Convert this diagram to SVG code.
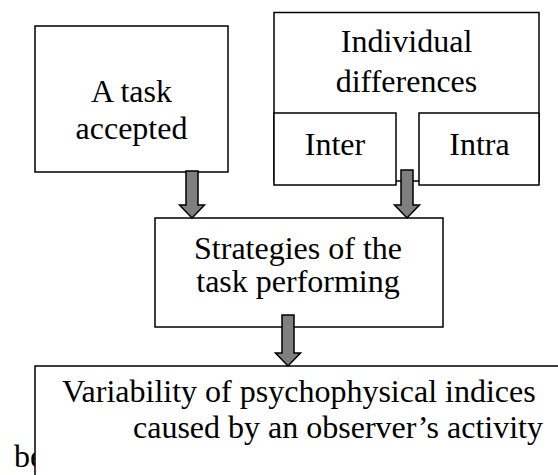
<svg xmlns="http://www.w3.org/2000/svg" width="558" height="475" viewBox="0 0 558 475">
<style>
.box{fill:#fff;stroke:#000;stroke-width:1.5}
.t{font-family:'Liberation Serif','Times New Roman',Times,'DejaVu Serif',serif;font-size:32px;fill:#000}
.c{text-anchor:middle}
.arr{fill:#7f7f7f;stroke:#000;stroke-width:1.5;stroke-linejoin:miter}
</style>
<rect width="558" height="475" fill="#fff"/>
<text class="t" x="14" y="467" font-family="Liberation Serif, serif">be</text>
<g id="task">
<rect class="box" x="35" y="26" width="193" height="146"/>
<text class="t c" x="131.5" y="101.5" font-family="Liberation Serif, serif">A task</text>
<text class="t c" x="131.5" y="138.5" font-family="Liberation Serif, serif">accepted</text>
</g>
<g id="individual">
<rect class="box" x="274" y="12.5" width="265" height="168.5"/>
<text class="t c" x="406.5" y="51.5" font-family="Liberation Serif, serif">Individual</text>
<text class="t c" x="406.5" y="91.5" font-family="Liberation Serif, serif">differences</text>
</g>
<g id="inter">
<rect class="box" x="274" y="113" width="122" height="72"/>
<text class="t c" x="335" y="155" font-family="Liberation Serif, serif">Inter</text>
</g>
<g id="intra">
<rect class="box" x="419" y="113" width="120" height="72"/>
<text class="t c" x="479.5" y="155" font-family="Liberation Serif, serif">Intra</text>
</g>
<g id="strategies">
<rect class="box" x="155" y="218" width="288" height="109"/>
<text class="t c" x="298" y="258.5" font-family="Liberation Serif, serif">Strategies of the</text>
<text class="t c" x="298" y="292" font-family="Liberation Serif, serif">task performing</text>
</g>
<g id="variability">
<rect class="box" x="35" y="366" width="540" height="130"/>
<text class="t" x="62" y="402" font-family="Liberation Serif, serif">Variability of psychophysical indices</text>
<text class="t" x="133" y="438" font-family="Liberation Serif, serif">caused by an observer’s activity</text>
</g>
<g id="connectors">
<path class="arr" d="M186,171 H198 V205 H204.5 L192,218 L179.5,205 H186 Z"/>
<path class="arr" d="M401,170 H413 V205 H419.5 L407,218 L394.5,205 H401 Z"/>
<path class="arr" d="M282,315 H294 V353 H300.5 L288,366 L275.5,353 H282 Z"/>
</g>
</svg>
